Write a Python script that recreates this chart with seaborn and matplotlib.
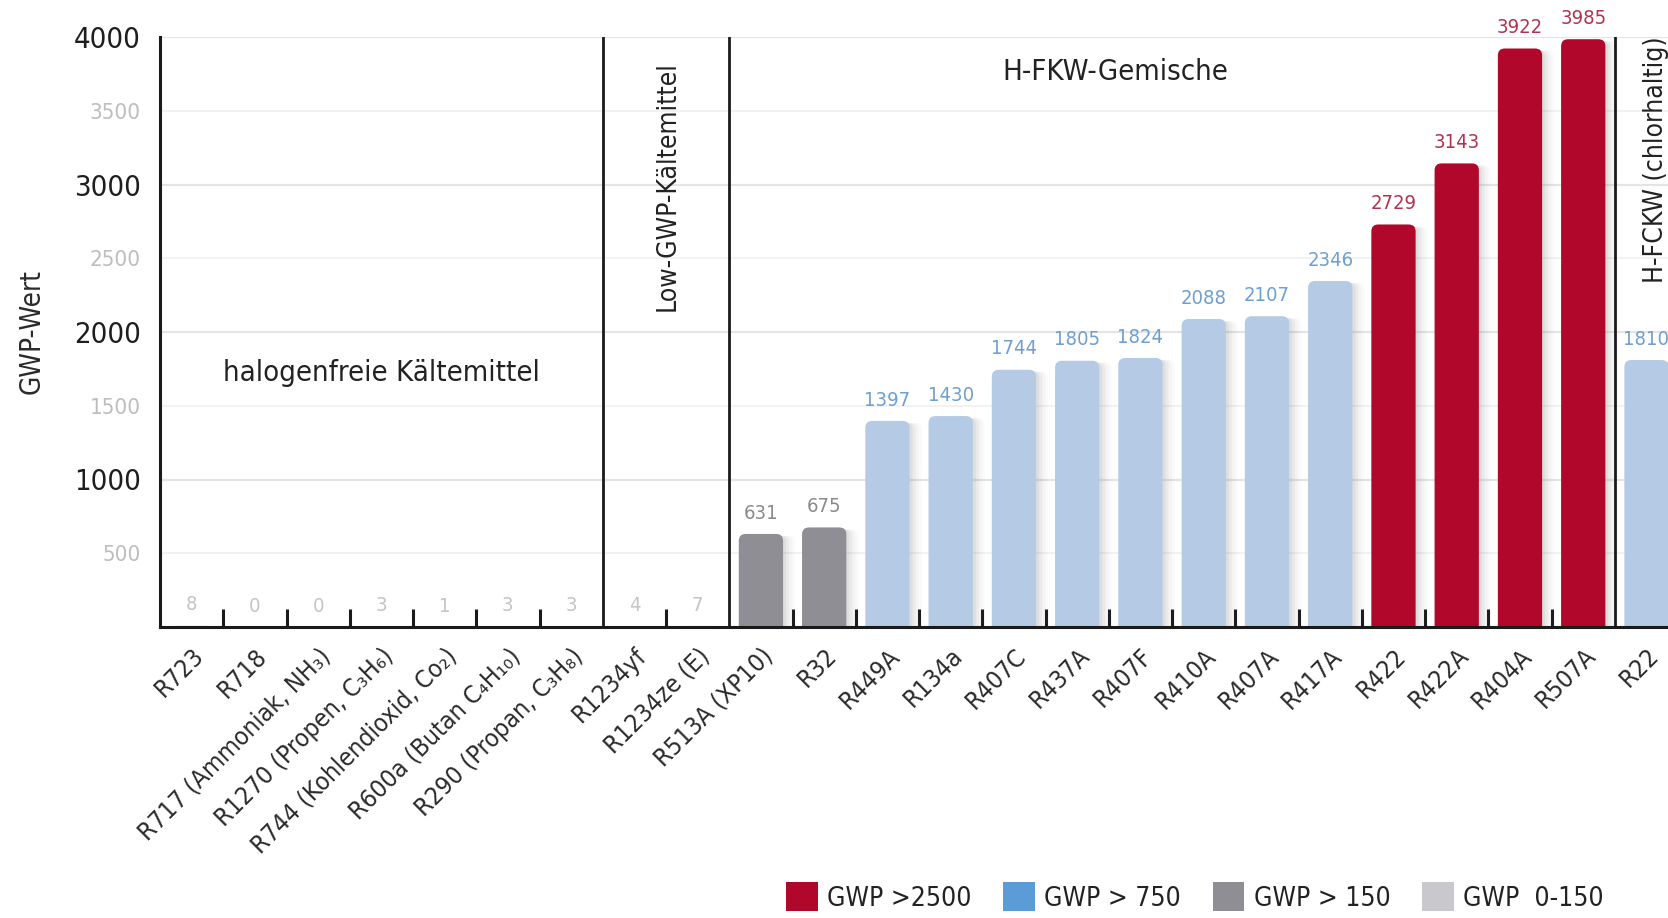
import numpy as np
import pandas as pd
import matplotlib
matplotlib.use("Agg")
import matplotlib.pyplot as plt
from matplotlib.patches import FancyBboxPatch, Patch
import seaborn as sns

# --- data -------------------------------------------------------------
kaeltemittel = [
    "R723", "R718", "R717 (Ammoniak, NH₃)", "R1270 (Propen, C₃H₆)",
    "R744 (Kohlendioxid, Co₂)", "R600a (Butan C₄H₁₀)", "R290 (Propan, C₃H₈)",
    "R1234yf", "R1234ze (E)", "R513A (XP10)", "R32", "R449A", "R134a",
    "R407C", "R437A", "R407F", "R410A", "R407A", "R417A", "R422", "R422A",
    "R404A", "R507A", "R22",
]
gwp = [8, 0, 0, 3, 1, 3, 3, 4, 7, 631, 675, 1397, 1430, 1744, 1805, 1824,
       2088, 2107, 2346, 2729, 3143, 3922, 3985, 1810]

klassen = ["GWP >2500", "GWP > 750", "GWP > 150", "GWP  0-150"]
grenzen = [2500, 750, 150]
bar_farben = ["#B0072B", "#B5CAE4", "#8E8E94", "#C9C9CD"]
legend_farben = ["#B0072B", "#5B9BD6", "#8E8E94", "#C9C9CD"]
text_farben = ["#B23350", "#6E9FD1", "#8A8A8E", "#C4C4C4"]

gruppen = ["halogenfreie Kältemittel", "Low-GWP-Kältemittel",
           "H-FKW-Gemische", "H-FCKW (chlorhaltig)"]
trenner = [6.5, 8.5, 22.5]

y_ticks = [500, 1000, 1500, 2000, 2500, 3000, 3500, 4000]


def klasse_von(v):
    for k, g in enumerate(grenzen):
        if v > g:
            return k
    return len(grenzen)


klasse_idx = [klasse_von(v) for v in gwp]
df = pd.DataFrame({
    "kaeltemittel": kaeltemittel,
    "gwp": gwp,
    "klasse": [klassen[k] for k in klasse_idx],
})

# --- style ------------------------------------------------------------
sns.set_theme(style="white")
plt.rcParams["font.family"] = ["Liberation Sans Narrow", "DejaVu Sans"]
plt.rcParams["font.stretch"] = "condensed"

W, H = 1668, 918
fig = plt.figure(figsize=(W / 100, H / 100), dpi=100)
fig.patch.set_facecolor("white")
ax = fig.add_axes([160 / W, 1 - 627 / H, 1 - 160 / W, (627 - 37) / H])
ax.set_facecolor("white")

sns.barplot(data=df, x="kaeltemittel", y="gwp", hue="klasse",
            hue_order=klassen, palette=dict(zip(klassen, bar_farben)),
            dodge=False, width=0.7, saturation=1, legend=False, ax=ax)

ax.set_xlim(-0.5, 23.34)
ax.set_ylim(0, 4000)

# pixel size in data units, used for rounded corners
px_x = (ax.get_xlim()[1] - ax.get_xlim()[0]) / (W - 160)
px_y = 4000 / (627 - 37)
aspect = px_y / px_x

# replace the plain bars with rounded ones and a soft shadow to the right
bars = [p for p in ax.patches if p.get_height() == p.get_height()]
for p in list(bars):
    x0, w, h = p.get_x(), p.get_width(), p.get_height()
    col = p.get_facecolor()
    p.remove()
    for k, a in enumerate([0.10, 0.07, 0.05, 0.03]):
        sh = FancyBboxPatch((x0 + (3 + 3 * k) * px_x, -200), w, h + 200 - 2 * px_y,
                            boxstyle=f"round,pad=0,rounding_size={6 * px_x}",
                            mutation_aspect=aspect, facecolor="#7a7a7a",
                            edgecolor="none", alpha=a, zorder=1)
        ax.add_patch(sh)
    rb = FancyBboxPatch((x0, -200), w, h + 200,
                        boxstyle=f"round,pad=0,rounding_size={7 * px_x}",
                        mutation_aspect=aspect, facecolor=col,
                        edgecolor="none", zorder=2)
    ax.add_patch(rb)

# value labels above each bar
for i, (v, k) in enumerate(zip(gwp, klasse_idx)):
    ax.annotate(f"{v}", (i, v), xytext=(0, 15), textcoords="offset points",
                ha="center", va="center", fontsize=14.5, color=text_farben[k],
                annotation_clip=False, zorder=5)

# horizontal grid
for y in y_ticks:
    major = y % 1000 == 0
    ax.axhline(y, color="#E4E4E4" if major else "#F2F2F2",
               lw=1.6 if major else 1.4, zorder=0)

# group separators
for t in trenner:
    ax.axvline(t, color="#1a1a1a", lw=2, zorder=4)

# spines
for s in ["top", "right"]:
    ax.spines[s].set_visible(False)
for s in ["left", "bottom"]:
    ax.spines[s].set_color("#1a1a1a")
    ax.spines[s].set_linewidth(2.2)
    ax.spines[s].set_zorder(6)

# y axis
ax.set_yticks(y_ticks)
ax.set_yticklabels([str(y) for y in y_ticks])
for lbl, y in zip(ax.get_yticklabels(), y_ticks):
    if y % 1000 == 0:
        lbl.set_color("#1e1e1e")
        lbl.set_fontsize(21)
    else:
        lbl.set_color("#BDBDBD")
        lbl.set_fontsize(16)
ax.tick_params(axis="y", length=0, pad=14)
ax.set_ylabel("GWP-Wert", fontsize=20, color="#2a2a2a", labelpad=20)

# x axis: labels under categories, tick marks between categories
ax.set_xlabel("")
ax.set_xticks(range(len(kaeltemittel)))
ax.set_xticklabels(kaeltemittel, rotation=45, ha="right", va="top",
                   rotation_mode="anchor", fontsize=18, color="#2a2a2a")
ax.tick_params(axis="x", which="major", length=0, pad=12)
between = [i + 0.5 for i in range(len(kaeltemittel) - 1) if i + 0.5 not in trenner]
ax.set_xticks(between, minor=True)
ax.tick_params(axis="x", which="minor", bottom=True, direction="in",
               length=13, width=2.2, color="#1a1a1a", labelbottom=False)
for tl in ax.xaxis.get_minorticklines():
    tl.set_zorder(6)

# group titles
ax.text(3.0, 1720, gruppen[0], ha="center", va="center", fontsize=21,
        color="#222222", zorder=5)
ax.text(7.52, 2990, gruppen[1], ha="center", va="center", rotation=90,
        fontsize=19, color="#222222", zorder=5)
ax.text(14.6, 3760, gruppen[2], ha="center", va="center", fontsize=21,
        color="#222222", zorder=5)
ax.text(23.15, 3170, gruppen[3], ha="center", va="center", rotation=90,
        fontsize=19, color="#222222", zorder=5, clip_on=False)

# legend
handles = [Patch(facecolor=c, edgecolor="none") for c in legend_farben]
fig.legend(handles, klassen, loc="center", bbox_to_anchor=(1195 / W, 1 - 897 / H),
           ncol=4, frameon=False, fontsize=19, handlelength=1.2,
           handleheight=1.3, handletextpad=0.35, columnspacing=1.2,
           labelcolor="#222222")

fig.savefig("out.png", dpi=100, facecolor="white")
